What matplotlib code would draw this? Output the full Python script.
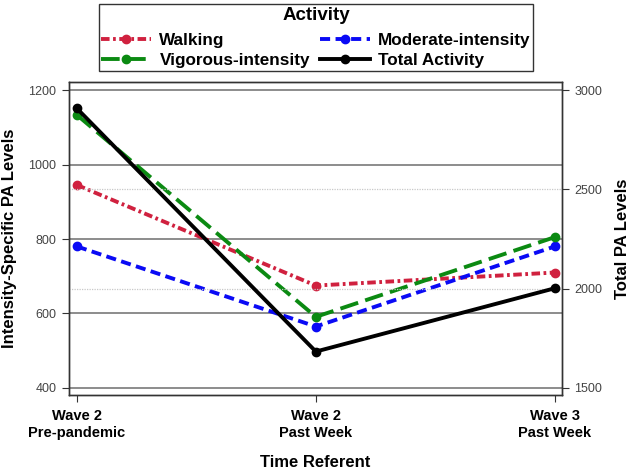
import matplotlib
matplotlib.use("Agg")
import matplotlib.pyplot as plt

plt.rcParams['font.family'] = ['Liberation Sans', 'DejaVu Sans']

categories = ["Wave 2\nPre-pandemic", "Wave 2\nPast Week", "Wave 3\nPast Week"]
walking = [945, 675, 710]
moderate = [780, 565, 780]
vigorous = [1133, 591, 805]
total = [2908, 1683, 2002]
left_ticks = [400, 600, 800, 1000, 1200]
right_ticks = [1500, 2000, 2500, 3000]

fig = plt.figure(figsize=(6.32, 4.73), dpi=100)
ax = fig.add_axes([0.1092, 0.164, 0.7800, 0.663])
ax2 = ax.twinx()

x = list(range(len(categories)))

for t in left_ticks:
    ax.axhline(t, color='#8c8c8c', lw=1.4, zorder=0)
for t in right_ticks[1:3]:
    ax2.axhline(t, color='#c8c8c8', lw=0.9, ls=(0, (1, 1)), zorder=0)

lw = 2.8
ms = 6
h_walk, = ax.plot(x, walking, color='#d0213f', lw=lw, marker='o', ms=ms,
                  dashes=(2.2, 0.9, 0.7, 0.9), label='Walking')
h_mod, = ax.plot(x, moderate, color='#0a0af5', lw=lw, marker='o', ms=ms,
                 dashes=(2.6, 1.4), label='Moderate-intensity')
h_vig, = ax.plot(x, vigorous, color='#0b8a12', lw=lw, marker='o', ms=ms,
                 dashes=(4.8, 1.9), label='Vigorous-intensity')
h_tot, = ax2.plot(x, total, color='black', lw=lw, marker='o', ms=ms,
                  label='Total Activity')

ax.set_xlim(-0.033, 2.03)
ax.set_ylim(380, 1222)
ax2.set_ylim(1462, 3042)
ax.set_yticks(left_ticks)
ax2.set_yticks(right_ticks)
ax.set_xticks(x)
ax.set_xticklabels(categories, fontweight='bold', fontsize=10.5)
ax.tick_params(axis='y', labelsize=9, colors='#333333', labelcolor='#444444', length=5, pad=4)
ax.tick_params(axis='x', length=5, colors='#333333', labelcolor='black', pad=5)
ax2.tick_params(axis='y', labelsize=9, colors='#333333', labelcolor='#444444', length=5, pad=4)

ax.set_ylabel('Intensity-Specific PA Levels', fontsize=12, fontweight='bold', labelpad=8)
ax2.set_ylabel('Total PA Levels', fontsize=12, fontweight='bold', labelpad=9)
ax.set_xlabel('Time Referent', fontsize=12, fontweight='bold', labelpad=11)

for a in (ax, ax2):
    for s in a.spines.values():
        s.set_color('#333333')
        s.set_linewidth(1.0)

leg = fig.legend(handles=[h_walk, h_vig, h_mod, h_tot], loc='upper center',
                 bbox_to_anchor=(0.5, 0.9915), ncol=2, fancybox=False,
                 edgecolor='#333333', title='Activity',
                 prop={'weight': 'bold', 'size': 12.3},
                 title_fontproperties={'weight': 'bold', 'size': 13.5},
                 handlelength=2.9, columnspacing=0.6, handletextpad=0.5,
                 borderpad=0.15, labelspacing=0.3, framealpha=1,
                 borderaxespad=0)
leg.get_frame().set_linewidth(1.0)
leg._legend_box.sep = 7

fig.savefig('out.png', dpi=100)
